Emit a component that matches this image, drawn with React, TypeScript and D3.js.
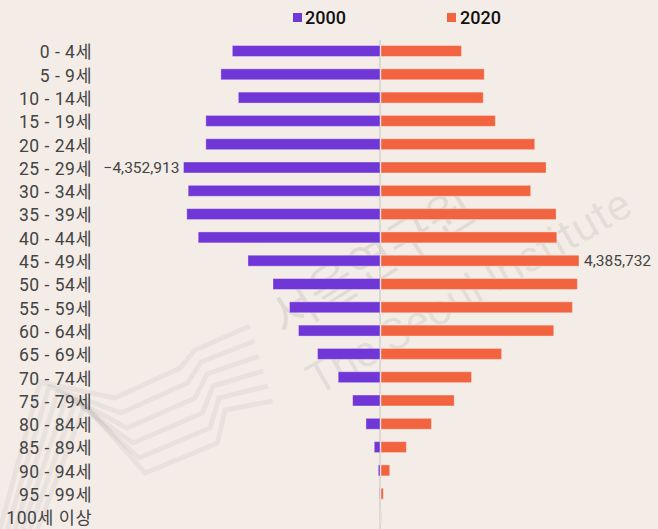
import * as d3 from "d3";

// age groups, top to bottom
const ageGroups = [
  "0 - 4세", "5 - 9세", "10 - 14세", "15 - 19세", "20 - 24세", "25 - 29세",
  "30 - 34세", "35 - 39세", "40 - 44세", "45 - 49세", "50 - 54세", "55 - 59세",
  "60 - 64세", "65 - 69세", "70 - 74세", "75 - 79세", "80 - 84세", "85 - 89세",
  "90 - 94세", "95 - 99세", "100세 이상",
];

// population in 2000 (drawn to the left)
const pop2000 = [
  3271000, 3525000, 3138000, 3858000, 3858000, 4352913,
  4249000, 4280000, 4027000, 2925000, 2370000, 2005000,
  1806000, 1384000, 926000, 606000, 311000, 127000,
  38000, 7000, 1000,
];

// population in 2020 (drawn to the right)
const pop2020 = [
  1783000, 2287000, 2265000, 2532000, 3405000, 3657000,
  3316000, 3879000, 3894000, 4385732, 4350000, 4240000,
  3826000, 2672000, 2005000, 1621000, 1117000, 562000,
  193000, 51000, 5000,
];

const seriesNames = ["2000", "2020"];
const colors = ["#7136d6", "#f2643f"];

const W = 658;
const H = 529;
const centerX = 380;
const fmt = d3.format(",");

export default function App() {
  const maxVal = 4385732;
  const x = d3.scaleLinear().domain([0, maxVal]).range([0, 198]);
  const y = d3.scaleBand<string>()
    .domain(ageGroups)
    .range([39.35, 528.65])
    .paddingInner(0.53)
    .paddingOuter(0.265);
  const bw = y.bandwidth();

  const max2000 = d3.maxIndex(pop2000);
  const max2020 = d3.maxIndex(pop2020);

  // faint wave logo lines of the watermark
  const waveLine = d3.line().curve(d3.curveLinear);
  const waves = d3.range(6).map((k) => {
    const o = k * 15;
    return waveLine([
      [0 + o * 0.5, 529],
      [40 + o * 0.6, 382 + o * 0.3],
      [115 + o * 0.4, 398 + o],
      [180 + o * 0.5, 368 + o],
      [195 + o * 0.4, 350 + o * 0.8],
      [250 + o * 0.3, 326 + o],
    ]);
  });

  return (
    <div style={{ position: "absolute", left: 0, top: 0 }}>
      <svg width={W} height={H} style={{ display: "block", background: "#f3ece7" }}
        fontFamily="Roboto, 'Noto Sans CJK KR', sans-serif">
        {/* watermark */}
        <g fill="none" stroke="rgba(0,0,0,0.045)" strokeWidth={5} strokeLinejoin="round">
          {waves.map((d, i) => <path key={i} d={d as string} />)}
        </g>
        <g fill="rgba(0,0,0,0.075)">
          <text transform="translate(284,338) rotate(-32)" fontSize={50}
            fontFamily="'Noto Sans CJK KR'">서울연구원</text>
          <text transform="translate(318,396) rotate(-30)" fontSize={44}>The Seoul Institute</text>
        </g>

        {/* center line */}
        <line x1={centerX} x2={centerX} y1={40} y2={H} stroke="#d6d0cc" strokeWidth={1.5} />

        {/* 2000 bars */}
        <g fill={colors[0]} stroke="rgba(255,255,255,0.35)" strokeWidth={1}>
          {pop2000.map((v, i) => (
            <rect key={i} x={centerX - x(v)} y={y(ageGroups[i])} width={x(v)} height={bw} />
          ))}
        </g>
        {/* 2020 bars */}
        <g fill={colors[1]} stroke="rgba(255,255,255,0.35)" strokeWidth={1}>
          {pop2020.map((v, i) => (
            <rect key={i} x={centerX + 1} y={y(ageGroups[i])} width={x(v)} height={bw} />
          ))}
        </g>

        {/* max value labels */}
        <text x={centerX - x(pop2000[max2000]) - 4} y={(y(ageGroups[max2000]) as number) + bw / 2}
          dy="0.36em" textAnchor="end" fontSize={15.5} fill="#444">
          {"−" + fmt(pop2000[max2000])}
        </text>
        <text x={centerX + 1 + x(pop2020[max2020]) + 5} y={(y(ageGroups[max2020]) as number) + bw / 2}
          dy="0.36em" textAnchor="start" fontSize={15.5} fill="#444">
          {fmt(pop2020[max2020])}
        </text>

        {/* y axis labels */}
        <g fontSize={17.5} fill="#444" textAnchor="end" letterSpacing={0.5}>
          {ageGroups.map((g) => (
            <text key={g} x={92} y={(y(g) as number) + bw / 2} dy="0.42em">{g}</text>
          ))}
        </g>

        {/* legend */}
        <g fontSize={18} fontWeight={500} fill="#111">
          <rect x={293} y={13} width={9} height={9} fill={colors[0]} />
          <text x={305} y={17.5} dy="0.36em">{seriesNames[0]}</text>
          <rect x={447} y={13} width={9} height={9} fill={colors[1]} />
          <text x={460} y={17.5} dy="0.36em">{seriesNames[1]}</text>
        </g>
      </svg>
    </div>
  );
}
